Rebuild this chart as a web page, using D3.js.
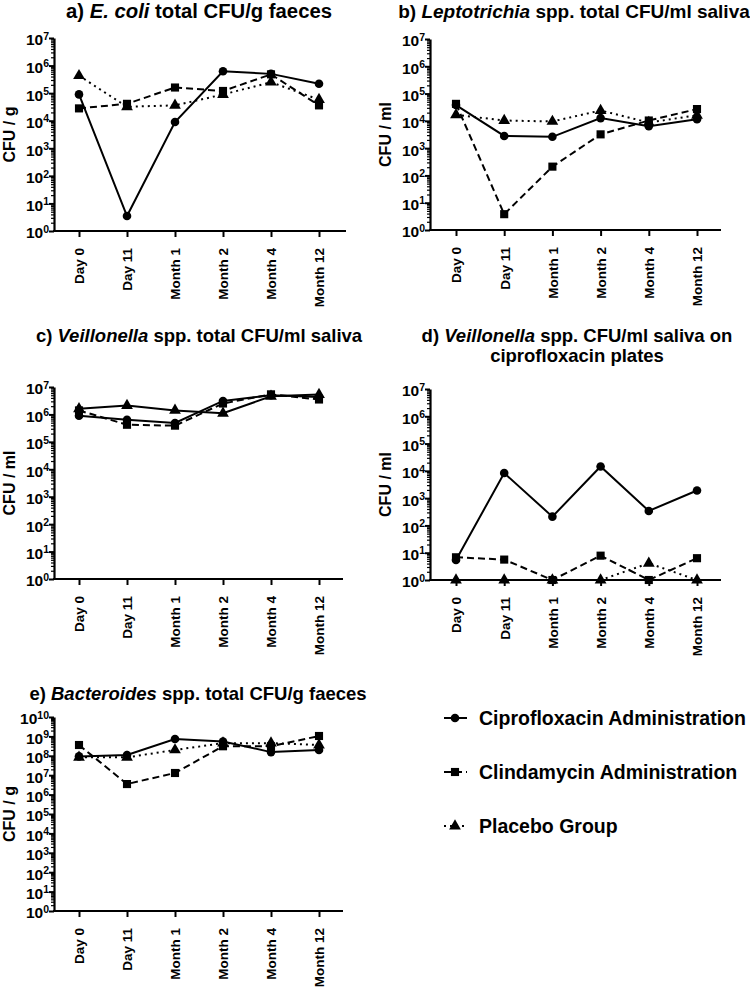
<!DOCTYPE html>
<html>
<head>
<meta charset="utf-8">
<script src="https://cdn.jsdelivr.net/npm/d3@7"></script>
<style>
  html, body { margin: 0; padding: 0; background: #fff; }
  svg text { font-family: "Liberation Sans", Arial, sans-serif; font-weight: bold; fill: #000; }
</style>
</head>
<body>
<svg id="chart" width="750" height="987"></svg>
<script>
// ---------------- DATA ----------------
const categories = ["Day 0", "Day 11", "Month 1", "Month 2", "Month 4", "Month 12"];
const seriesNames = ["Ciprofloxacin Administration", "Clindamycin Administration", "Placebo Group"];

// a) E. coli total CFU/g faeces
const ecoliCipro   = [9e4, 3.5, 9e3, 6.2e5, 5.0e5, 2.2e5];
const ecoliClinda  = [2.8e4, 4.1e4, 1.6e5, 1.2e5, 4.8e5, 3.6e4];
const ecoliPlacebo = [4.3e5, 3.2e4, 3.6e4, 8.9e4, 2.5e5, 5.8e4];

// b) Leptotrichia spp. total CFU/ml saliva
const leptoCipro   = [3.8e4, 2.8e3, 2.6e3, 1.26e4, 6.4e3, 1.15e4];
const leptoClinda  = [4.2e4, 3.8, 2.1e2, 3.2e3, 1.03e4, 2.7e4];
const leptoPlacebo = [1.66e4, 1.03e4, 9.5e3, 2.4e4, 8.7e3, 1.6e4];

// c) Veillonella spp. total CFU/ml saliva
const veilCipro   = [8.9e5, 6.4e5, 4.9e5, 3.1e6, 5.0e6, 4.3e6];
const veilClinda  = [1.4e6, 4.2e5, 3.9e5, 2.5e6, 5.4e6, 3.5e6];
const veilPlacebo = [1.6e6, 2.1e6, 1.4e6, 1.1e6, 4.6e6, 5.3e6];

// d) Veillonella spp. CFU/ml saliva on ciprofloxacin plates
const veilCipCipro   = [5.4, 8.3e3, 2.1e2, 1.45e4, 3.4e2, 1.9e3];
const veilCipClinda  = [6.8, 5.6, 1, 7.8, 1, 6.3];
const veilCipPlacebo = [1, 1, 1, 1, 4.1, 1];

// e) Bacteroides spp. total CFU/g faeces
const bactCipro   = [9.3e7, 1.1e8, 7.3e8, 5.5e8, 1.55e8, 2.0e8];
const bactClinda  = [3.6e8, 3.5e6, 1.3e7, 3.1e8, 3.1e8, 1.05e9];
const bactPlacebo = [8.3e7, 8.3e7, 2.0e8, 4.5e8, 4.5e8, 3.6e8];

// ---------------- LAYOUT ----------------
const svg = d3.select("#chart");
const lineStyles = [
  { dash: null, symbol: d3.symbolCircle, size: 58 },
  { dash: "7,4", symbol: d3.symbolSquare, size: 66 },
  { dash: "2,4", symbol: d3.symbolTriangle, size: 60 }
];

const panels = [
  { titleParts: [["a) ", false], ["E. coli", true], [" total CFU/g faeces", false]], title2: null,
    tx: 199, ty: 18, tsize: 20.3, ylabel: "CFU / g", ax: 54, top: 38, bottom: 231, x0: 79, x1: 319, xEnd: 346, maxExp: 7,
    data: [ecoliCipro, ecoliClinda, ecoliPlacebo], placeboSolid: false },
  { titleParts: [["b) ", false], ["Leptotrichia", true], [" spp. total CFU/ml saliva", false]], title2: null,
    tx: 574, ty: 18, tsize: 19, ylabel: "CFU / ml", ax: 430, top: 39, bottom: 230, x0: 456, x1: 697, xEnd: 721, maxExp: 7,
    data: [leptoCipro, leptoClinda, leptoPlacebo], placeboSolid: false },
  { titleParts: [["c) ", false], ["Veillonella", true], [" spp. total CFU/ml saliva", false]], title2: null,
    tx: 199, ty: 342, tsize: 18.5, ylabel: "CFU / ml", ax: 54, top: 387, bottom: 579, x0: 79, x1: 319, xEnd: 343, maxExp: 7,
    data: [veilCipro, veilClinda, veilPlacebo], placeboSolid: true },
  { titleParts: [["d) ", false], ["Veillonella", true], [" spp. CFU/ml saliva on", false]], title2: "ciprofloxacin plates",
    tx: 577, ty: 342, tsize: 18.5, ylabel: "CFU / ml", ax: 430, top: 389, bottom: 580, x0: 456, x1: 697, xEnd: 721, maxExp: 7,
    data: [veilCipCipro, veilCipClinda, veilCipPlacebo], placeboSolid: false },
  { titleParts: [["e) ", false], ["Bacteroides", true], [" spp. total CFU/g faeces", false]], title2: null,
    tx: 198, ty: 700, tsize: 18.5, ylabel: "CFU / g", ax: 54, top: 717, bottom: 911, x0: 79, x1: 319, xEnd: 343, maxExp: 10,
    data: [bactCipro, bactClinda, bactPlacebo], placeboSolid: false }
];

panels.forEach(p => {
  const g = svg.append("g");
  // title
  const t = g.append("text").attr("x", p.tx).attr("y", p.ty)
    .attr("text-anchor", "middle").style("font-size", p.tsize + "px");
  p.titleParts.forEach(([s, it]) => t.append("tspan").text(s).style("font-style", it ? "italic" : "normal"));
  if (p.title2) {
    g.append("text").attr("x", p.tx).attr("y", p.ty + 20).attr("text-anchor", "middle")
      .style("font-size", p.tsize + "px").text(p.title2);
  }

  const x = d3.scalePoint().domain(categories).range([p.x0, p.x1]);
  const y = d3.scaleLog().domain([1, Math.pow(10, p.maxExp)]).range([p.bottom, p.top]);

  // minor ticks
  const minors = [];
  for (let e = 0; e < p.maxExp; e++) for (let k = 2; k <= 9; k++) minors.push(k * Math.pow(10, e));
  g.append("g").attr("transform", `translate(${p.ax},0)`)
    .call(d3.axisLeft(y).tickValues(minors).tickSize(3).tickFormat(() => ""))
    .call(s => s.select(".domain").remove())
    .call(s => s.selectAll("line").attr("stroke-width", 1.2));

  // major ticks + labels
  const majors = d3.range(0, p.maxExp + 1).map(e => Math.pow(10, e));
  const yAxisG = g.append("g").attr("transform", `translate(${p.ax},0)`)
    .call(d3.axisLeft(y).tickValues(majors).tickSize(5).tickSizeOuter(0).tickFormat(() => ""));
  yAxisG.select(".domain").attr("stroke-width", 2.2);
  yAxisG.selectAll(".tick line").attr("stroke-width", 2);
  yAxisG.selectAll(".tick text").each(function(d) {
    const tx = d3.select(this).attr("x", -5).attr("dy", "0.45em").style("font-size", "15.5px")
      .attr("text-anchor", "end");
    tx.text(null);
    tx.append("tspan").text("10");
    tx.append("tspan").text(Math.round(Math.log10(d))).attr("dy", "-0.55em").style("font-size", "10.5px");
  });

  // x axis
  const xAxisG = g.append("g").attr("transform", `translate(0,${p.bottom})`)
    .call(d3.axisBottom(x).tickSize(6).tickSizeOuter(0));
  xAxisG.select(".domain").attr("d", `M${p.ax - 1},0H${p.xEnd}`).attr("stroke-width", 2.2);
  xAxisG.selectAll(".tick line").attr("stroke-width", 2);
  xAxisG.selectAll(".tick text")
    .attr("transform", "rotate(-90)").attr("x", -17).attr("y", 0).attr("dy", "0.36em")
    .attr("text-anchor", "end").style("font-size", "13.5px");

  // y label
  g.append("text").attr("transform", `translate(${p.ax - 39},${(p.top + p.bottom) / 2}) rotate(-90)`)
    .attr("text-anchor", "middle").style("font-size", "16px").text(p.ylabel);

  // series
  p.data.forEach((vals, i) => {
    const st = lineStyles[i];
    const dash = (i === 2 && p.placeboSolid) ? null : st.dash;
    const line = d3.line().x((d, j) => x(categories[j])).y(d => y(d));
    g.append("path").datum(vals).attr("d", line).attr("fill", "none").attr("stroke", "#000")
      .attr("stroke-width", 2).attr("stroke-dasharray", dash);
  });
  p.data.forEach((vals, i) => {
    const st = lineStyles[i];
    g.selectAll(null).data(vals).enter().append("path")
      .attr("d", d3.symbol().type(st.symbol).size(st.size))
      .attr("transform", (d, j) => `translate(${x(categories[j])},${y(d)})`)
      .attr("fill", "#000");
  });
});

// ---------------- LEGEND ----------------
const legendY = [718, 772, 826];
const lg = svg.append("g");
seriesNames.forEach((name, i) => {
  const st = lineStyles[i];
  const yy = legendY[i];
  lg.append("line").attr("x1", 444).attr("x2", 467).attr("y1", yy).attr("y2", yy)
    .attr("stroke", "#000").attr("stroke-width", 2).attr("stroke-dasharray", st.dash);
  lg.append("path").attr("d", d3.symbol().type(st.symbol).size(st.size))
    .attr("transform", `translate(455,${yy})`).attr("fill", "#000");
  lg.append("text").attr("x", 479).attr("y", yy + 7).style("font-size", "19.5px").text(name);
});
</script>
</body>
</html>
